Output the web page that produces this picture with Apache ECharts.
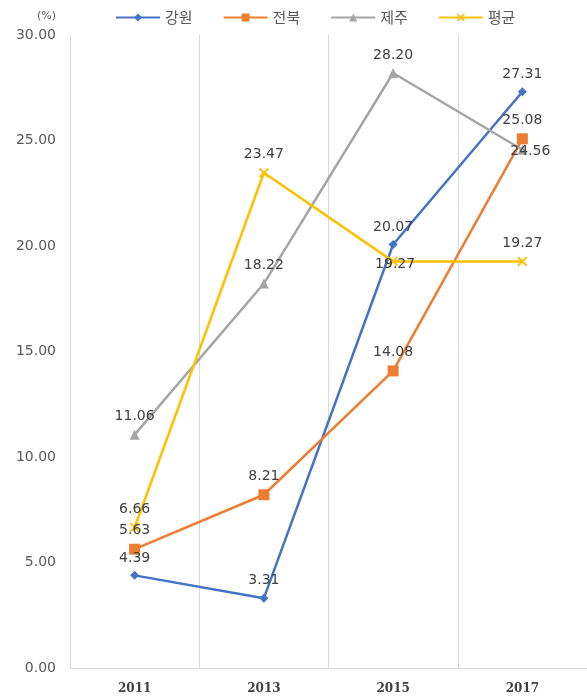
<!DOCTYPE html>
<html>
<head>
<meta charset="utf-8">
<script src="https://cdn.jsdelivr.net/npm/echarts@6/dist/echarts.min.js"></script>
<style>
  html, body { margin: 0; padding: 0; background: #ffffff; }
  #chart { width: 587px; height: 697px; }
</style>
</head>
<body>
<div id="chart"></div>
<script>
// Years on the category axis
const years = ['2011', '2013', '2015', '2017'];

// Rates (%) by region
const gangwon = [4.39, 3.31, 20.07, 27.31];
const jeonbuk = [5.63, 8.21, 14.08, 25.08];
const jeju = [11.06, 18.22, 28.20, 24.56];
const average = [6.66, 23.47, 19.27, 19.27];

const seriesNames = ['강원', '전북', '제주', '평균'];

// Y axis range
const yMin = 0;
const yMax = 30;
const yStep = 5;

const crossSymbol = 'path://M0,1.4L1.4,0L5,3.6L8.6,0L10,1.4L6.4,5L10,8.6L8.6,10L5,6.4L1.4,10L0,8.6L3.6,5Z';

const labelBase = {
  show: true,
  position: 'top',
  distance: 6,
  color: '#404040',
  fontSize: 14,
  fontFamily: 'DejaVu Sans',
  formatter: p => p.value.toFixed(2)
};

// Labels that sit on top of their marker rather than above it
const centeredLabel = { position: 'inside', offset: [8, 2] };

function lineSeries(name, values, color, symbol, size, centered) {
  const data = values.map((v, i) =>
    centered && centered[i] ? { value: v, label: centered[i] } : v
  );
  return {
    name: name,
    type: 'line',
    data: data,
    symbol: symbol,
    symbolSize: size,
    showAllSymbol: true,
    lineStyle: { color: color, width: 2.5 },
    itemStyle: { color: color },
    label: labelBase,
    z: 2
  };
}

const chart = echarts.init(document.getElementById('chart'), null, { renderer: 'canvas' });

chart.setOption({
  animation: false,
  backgroundColor: '#ffffff',
  legend: {
    top: 5,
    left: 110,
    itemWidth: 44,
    itemHeight: 10,
    itemGap: 30,
    textStyle: { color: '#595959', fontSize: 15, fontFamily: 'Noto Sans CJK KR' },
    data: seriesNames
  },
  grid: {
    left: 70,
    right: -3,
    top: 35,
    bottom: 29,
    containLabel: false
  },
  xAxis: {
    type: 'category',
    data: years,
    boundaryGap: true,
    axisLine: { show: true, lineStyle: { color: '#d9d9d9', width: 1 } },
    axisTick: { show: false },
    axisLabel: {
      color: '#404040',
      fontSize: 12,
      fontFamily: 'DejaVu Serif',
      fontWeight: 'bold',
      margin: 15
    },
    splitLine: { show: true, lineStyle: { color: '#d9d9d9', width: 1 } }
  },
  yAxis: {
    type: 'value',
    min: yMin,
    max: yMax,
    interval: yStep,
    name: '(%)',
    nameLocation: 'end',
    nameGap: 13,
    nameTextStyle: { color: '#595959', fontSize: 11, fontFamily: 'DejaVu Sans', align: 'right', padding: [0, 14, 0, 0] },
    axisLine: { show: false },
    axisTick: { show: false },
    splitLine: { show: false },
    axisLabel: {
      color: '#595959',
      fontSize: 14,
      fontFamily: 'DejaVu Sans',
      margin: 14,
      formatter: v => v.toFixed(2)
    }
  },
  series: [
    lineSeries(seriesNames[0], gangwon, '#4472C4', 'diamond', 9),
    lineSeries(seriesNames[1], jeonbuk, '#ED7D31', 'rect', 11),
    lineSeries(seriesNames[2], jeju, '#A5A5A5', 'triangle', 10, [null, null, null, centeredLabel]),
    lineSeries(seriesNames[3], average, '#FFC000', crossSymbol, 10, [null, null, { position: 'inside', offset: [2, 3] }, null])
  ]
});
</script>
</body>
</html>
